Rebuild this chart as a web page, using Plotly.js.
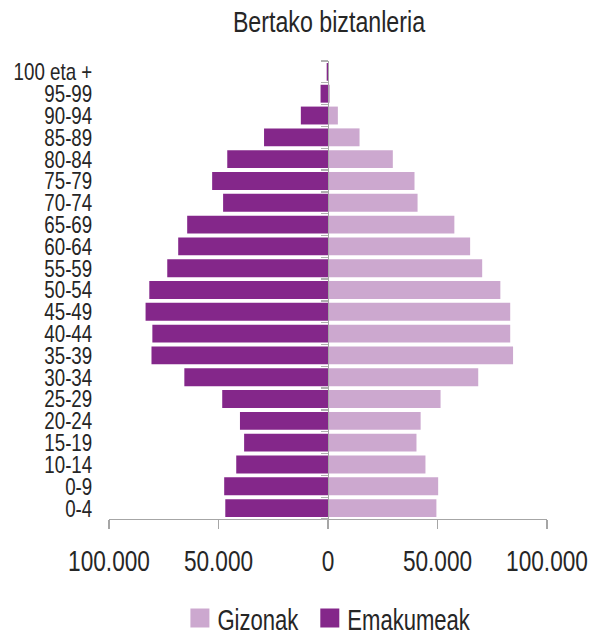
<!DOCTYPE html>
<html><head><meta charset="utf-8">
<script src="https://cdn.plot.ly/plotly-3.0.1.min.js"></script>
<style>html,body{margin:0;padding:0;background:#fff}#chart{width:592px;height:630px}</style>
</head><body><div id="chart"></div>
<script>
const categories = ['0-4','0-9','10-14','15-19','20-24','25-29','30-34','35-39','40-44','45-49','50-54','55-59','60-64','65-69','70-74','75-79','80-84','85-89','90-94','95-99','100 eta +'];
const emakumeak = [46900,47400,41900,38300,40200,48300,65600,80600,80200,83300,81600,73400,68400,64300,47900,52900,46000,29200,12400,3400,600];
const gizonak   = [49500,50300,44500,40400,42300,51400,68600,84500,83200,83200,78700,70400,64900,57700,40900,39500,29600,14400,4500,900,200];
const tickVals = [-100000,-50000,0,50000,100000];
const tickText = ['100.000','50.000','0','50.000','100.000'];

const FONT = '"Liberation Sans",Arial,sans-serif';
const TXT = '#262626';
const traces = [
  {type:'bar', orientation:'h', name:'Gizonak', y:categories, x:gizonak,
   marker:{color:'#CCA8CF'}, hoverinfo:'skip'},
  {type:'bar', orientation:'h', name:'Emakumeak', y:categories, x:emakumeak.map(v=>-v),
   marker:{color:'#84278A'}, hoverinfo:'skip'},
  {type:'scatter', mode:'none', x:categories.map(()=>0), y:categories, yaxis:'y2',
   showlegend:false, hoverinfo:'skip'}
];
const layout = {
  width:592, height:630,
  margin:{l:109, r:45, t:61, b:111, autoexpand:false},
  paper_bgcolor:'#fff', plot_bgcolor:'#fff',
  font:{family:FONT, size:24, color:TXT},
  title:{text:'Bertako biztanleria', x:0.5557, xanchor:'center', xref:'container',
         y:0.966, yanchor:'middle', yref:'container',
         font:{family:FONT, size:29, color:TXT}},
  barmode:'relative', bargap:0.18,
  xaxis:{range:[-100000,100000], tickmode:'array', tickvals:tickVals, ticktext:tickText, tickangle:0,
         showgrid:false, zeroline:false, showline:true, linecolor:'#A6A6A6', linewidth:1.3,
         ticks:'outside', ticklen:9, tickcolor:'#A6A6A6', tickwidth:1.3, ticklabelstandoff:7,
         ticklabeloverflow:'allow', automargin:false,
         tickfont:{size:29}, fixedrange:true},
  yaxis:{type:'category', categoryarray:categories, range:[-0.5,20.5],
         tickmode:'array', tickvals:categories, ticktext:categories,
         showgrid:false, zeroline:false, showline:false, automargin:false,
         ticks:'outside', ticklen:11, tickcolor:'rgba(0,0,0,0)', tickfont:{size:24}, fixedrange:true},
  yaxis2:{type:'category', categoryarray:categories, range:[-0.5,20.5], overlaying:'y',
          anchor:'free', position:0.5, side:'left', tickson:'boundaries',
          ticks:'outside', ticklen:7, tickcolor:'#B0B0B0', tickwidth:1.3,
          showticklabels:false, showgrid:false, zeroline:false, automargin:false,
          showline:true, linecolor:'#A6A6A6', linewidth:1.3, fixedrange:true},
  legend:{orientation:'h', x:0.5, xanchor:'center', y:0.05, yanchor:'bottom',
          bgcolor:'rgba(0,0,0,0)', font:{size:30}, traceorder:'normal', itemwidth:30},
  showlegend:true
};

function squeeze(el, f){
  const L = el.getComputedTextLength();
  if (L > 0){ el.setAttribute('textLength', (L*f).toFixed(2)); el.setAttribute('lengthAdjust','spacingAndGlyphs'); }
}
function tr(el){
  const m = /translate\(([-\d.e]+)[ ,]+([-\d.e]+)\)/.exec(el.getAttribute('transform') || '');
  return m ? [+m[1], +m[2]] : [0,0];
}
Plotly.newPlot('chart', traces, layout, {displayModeBar:false, staticPlot:true}).then(gd => {
  gd.querySelectorAll('.xtick text, .ytick text').forEach(t => squeeze(t, 0.78));
  gd.querySelectorAll('.gtitle').forEach(t => squeeze(t, 0.8));
  // legend: condensed text, larger squares, tighter spacing
  const items = Array.from(gd.querySelectorAll('.legend .traces'));
  let cur = 0;
  items.forEach(it => {
    const txt = it.querySelector('.legendtext');
    squeeze(txt, 0.735);
    txt.setAttribute('x', 37.5);
    const p = it.querySelector('.legendpoints path');
    if (p) p.setAttribute('d', 'M9.5,9.5H-9.5V-9.5H9.5Z');
    const [, y] = tr(it);
    it.setAttribute('transform', `translate(${cur},${y})`);
    const tl = parseFloat(txt.getAttribute('textLength')) || txt.getComputedTextLength();
    cur += 37.5 + tl + 11.5;
  });
  gd.querySelectorAll('.legend .scrollbox, .legend').forEach(g => g.removeAttribute('clip-path'));
  const leg = gd.querySelector('.legend');
  if (leg && items.length) {
    const sq = items[0].querySelector('.legendpoints path').getBoundingClientRect();
    const lastTxt = items[items.length-1].querySelector('.legendtext').getBoundingClientRect();
    const left = sq.left, right = lastTxt.right, cy = (sq.top + sq.bottom)/2;
    const xa = gd._fullLayout.xaxis;
    const cx = xa._offset + xa.l2p(0) + 2.5;
    const [lx, ly] = tr(leg);
    leg.setAttribute('transform', `translate(${lx + cx - (left+right)/2},${ly + 618 - cy})`);
  }
});
</script></body></html>
